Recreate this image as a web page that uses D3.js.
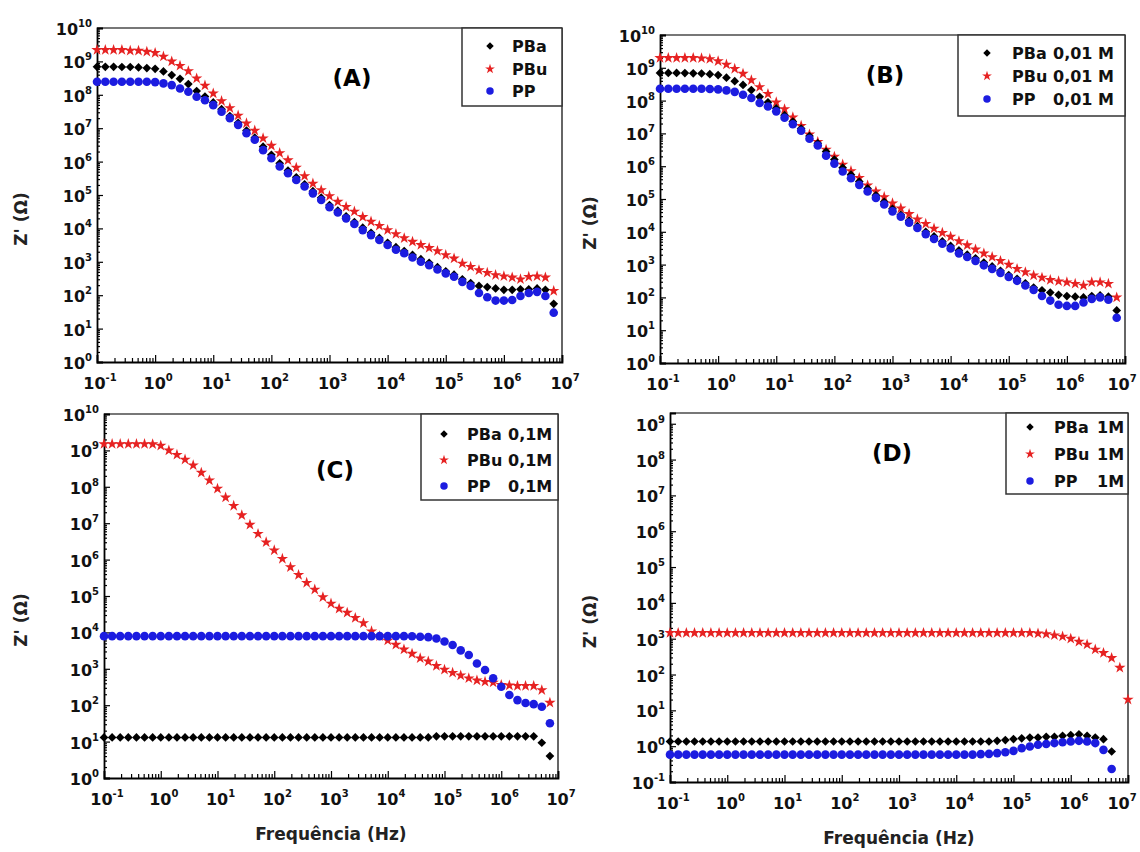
<!DOCTYPE html>
<html>
<head>
<meta charset="utf-8">
<script src="https://cdn.jsdelivr.net/npm/d3@7"></script>
<style>
  body { margin: 0; background: #fff; }
  text { font-family: "DejaVu Sans", "Liberation Sans", Arial, sans-serif; }
</style>
</head>
<body>
<svg id="chart" width="1140" height="852"></svg>
<script>
// frequency points (Hz), 7 per decade
var freq = [0.1,0.139,0.193,0.268,0.373,0.518,0.72,
  1,1.39,1.93,2.68,3.73,5.18,7.2,
  10,13.9,19.3,26.8,37.3,51.8,72,
  100,139,193,268,373,518,720,
  1e3,1.39e3,1.93e3,2.68e3,3.73e3,5.18e3,7.2e3,
  1e4,1.39e4,1.93e4,2.68e4,3.73e4,5.18e4,7.2e4,
  1e5,1.39e5,1.93e5,2.68e5,3.73e5,5.18e5,7.2e5,
  1e6,1.39e6,1.93e6,2.68e6,3.73e6,5.18e6,7.2e6,
  1e7];

// (A) Z' values
var A_PBa = [6.9e8,6.9e8,6.9e8,6.8e8,6.8e8,6.6e8,6.3e8,
  6.0e8,5.0e8,3.9e8,3.0e8,2.1e8,1.3e8,8.9e7,
  5.9e7,3.7e7,2.3e7,1.45e7,8.5e6,5.2e6,2.8e6,
  1.6e6,8.9e5,5.4e5,3.4e5,2.1e5,1.3e5,8.3e4,
  5.0e4,3.4e4,2.3e4,1.55e4,1.05e4,7.4e3,5.2e3,
  3.7e3,2.75e3,2.1e3,1.6e3,1.2e3,930,690,
  520,410,300,230,190,175,160,
  145,145,150,150,160,145,55];
var A_PBu = [2.2e9,2.2e9,2.2e9,2.2e9,2.1e9,2.1e9,1.95e9,
  1.8e9,1.4e9,1.0e9,7.4e8,5.1e8,3.1e8,1.9e8,
  1.1e8,6.5e7,4.0e7,2.4e7,1.4e7,8.5e6,5.0e6,
  3.0e6,1.8e6,1.1e6,6.6e5,3.7e5,2.2e5,1.4e5,
  9.3e4,6.3e4,4.4e4,3.2e4,2.2e4,1.6e4,1.2e4,
  8.9e3,6.8e3,5.1e3,4.0e3,3.2e3,2.6e3,2.1e3,
  1.6e3,1.26e3,890,710,560,470,400,
  370,340,300,355,370,340,135];
var A_PP = [2.45e8,2.45e8,2.45e8,2.45e8,2.45e8,2.45e8,2.45e8,
  2.4e8,2.2e8,1.95e8,1.55e8,1.23e8,8.7e7,6.9e7,
  4.9e7,3.1e7,2.0e7,1.26e7,7.1e6,4.5e6,2.2e6,
  1.26e6,7.1e5,4.5e5,2.8e5,1.8e5,1.12e5,7.1e4,
  4.3e4,3.0e4,2.0e4,1.35e4,8.9e3,6.3e3,4.5e3,
  3.2e3,2.3e3,1.8e3,1.35e3,1.0e3,790,590,
  450,355,250,190,117,87,69,
  69,72,95,117,126,95,30];

// (B) 0,01 M
var B_PBa = [7.0e8,7.0e8,7.0e8,6.9e8,6.8e8,6.7e8,6.4e8,
  6.0e8,5.0e8,3.9e8,3.0e8,2.1e8,1.3e8,8.9e7,
  5.8e7,3.6e7,2.3e7,1.4e7,8.3e6,5.0e6,2.8e6,
  1.6e6,9.0e5,5.5e5,3.4e5,2.1e5,1.3e5,8.2e4,
  5.0e4,3.3e4,2.2e4,1.5e4,1.0e4,7.2e3,5.1e3,
  3.7e3,2.7e3,2.0e3,1.55e3,1.15e3,880,650,
  480,370,270,200,165,140,120,
  110,105,100,110,115,105,40];
var B_PBu = [2.0e9,2.0e9,2.0e9,2.0e9,2.0e9,1.95e9,1.85e9,
  1.6e9,1.26e9,9.3e8,6.6e8,4.2e8,2.6e8,1.6e8,
  8.9e7,5.5e7,3.1e7,1.7e7,9.3e6,5.5e6,3.2e6,
  1.95e6,1.12e6,7.1e5,4.4e5,2.6e5,1.7e5,1.15e5,
  7.4e4,5.2e4,3.5e4,2.4e4,1.75e4,1.26e4,9.3e3,
  7.1e3,5.2e3,3.9e3,2.9e3,2.2e3,1.7e3,1.3e3,
  1.0e3,740,590,470,400,340,310,
  290,260,230,290,290,260,100];
var B_PP = [2.3e8,2.3e8,2.3e8,2.3e8,2.3e8,2.3e8,2.25e8,
  2.2e8,2.05e8,1.85e8,1.5e8,1.2e8,8.5e7,6.6e7,
  4.7e7,3.0e7,1.9e7,1.2e7,6.9e6,4.3e6,2.1e6,
  1.2e6,6.9e5,4.3e5,2.7e5,1.7e5,1.08e5,6.8e4,
  4.2e4,2.9e4,1.9e4,1.3e4,8.5e3,6.0e3,4.3e3,
  3.1e3,2.2e3,1.7e3,1.3e3,950,740,560,
  420,320,230,170,110,80,60,
  55,55,70,90,100,85,24];

// (C) 0,1M
var C_PBa = [13,13,13,13,13,13,13,
  13,13,13,13,13,13,13,
  13,13,13,13,13,13,13,
  13,13,13,13,13,13,13,
  13,13,13,13,13,13,13,
  13,13,13,13,13,13,14,
  14,14,14,14,14,14,14,
  14,14,14,14,14,9.3,4.0];
var C_PBu = [1.5e9,1.5e9,1.5e9,1.5e9,1.5e9,1.5e9,1.48e9,
  1.35e9,1.0e9,7.6e8,5.6e8,3.9e8,2.45e8,1.5e8,
  8.9e7,5.1e7,3.0e7,1.66e7,9.1e6,5.1e6,3.0e6,
  1.8e6,1.05e6,6.2e5,3.8e5,2.3e5,1.5e5,9.3e4,
  6.2e4,4.5e4,3.5e4,2.5e4,1.8e4,1.07e4,7.9e3,
  6.0e3,4.6e3,3.4e3,2.6e3,1.95e3,1.6e3,1.2e3,
  950,780,660,550,480,440,420,
  360,350,340,340,340,260,117];
var C_PP = [7.9e3,7.9e3,7.9e3,7.9e3,7.9e3,7.9e3,7.9e3,
  7.9e3,7.9e3,7.9e3,7.9e3,7.9e3,7.9e3,7.9e3,
  7.9e3,7.9e3,7.9e3,7.9e3,7.9e3,7.9e3,7.9e3,
  7.9e3,7.9e3,7.9e3,7.9e3,7.9e3,7.9e3,7.9e3,
  7.9e3,7.9e3,7.9e3,7.9e3,7.9e3,7.9e3,7.9e3,
  7.9e3,7.9e3,7.9e3,7.8e3,7.6e3,7.4e3,6.8e3,
  5.6e3,4.5e3,3.2e3,2.4e3,1.4e3,930,550,
  320,190,138,115,107,91,32];

// (D) 1M
var D_PBa = [1.35,1.35,1.35,1.35,1.35,1.35,1.35,
  1.35,1.35,1.35,1.35,1.35,1.35,1.35,
  1.35,1.35,1.35,1.35,1.35,1.35,1.35,
  1.35,1.35,1.35,1.35,1.35,1.35,1.35,
  1.35,1.35,1.35,1.35,1.35,1.35,1.35,
  1.35,1.35,1.35,1.35,1.35,1.41,1.48,
  1.58,1.66,1.74,1.74,1.82,1.82,1.95,
  2.04,2.14,1.95,1.74,1.57,0.71];
var D_PBu = [1.45e3,1.45e3,1.45e3,1.45e3,1.45e3,1.45e3,1.45e3,
  1.45e3,1.45e3,1.45e3,1.45e3,1.45e3,1.45e3,1.45e3,
  1.45e3,1.45e3,1.45e3,1.45e3,1.45e3,1.45e3,1.45e3,
  1.45e3,1.45e3,1.45e3,1.45e3,1.45e3,1.45e3,1.45e3,
  1.45e3,1.45e3,1.45e3,1.45e3,1.45e3,1.45e3,1.45e3,
  1.45e3,1.45e3,1.45e3,1.45e3,1.45e3,1.45e3,1.45e3,
  1.45e3,1.45e3,1.45e3,1.4e3,1.35e3,1.25e3,1.15e3,
  1.0e3,830,690,500,400,290,155,20];
var D_PP = [0.58,0.58,0.58,0.58,0.58,0.58,0.58,
  0.58,0.58,0.58,0.58,0.58,0.58,0.58,
  0.58,0.58,0.58,0.58,0.58,0.58,0.58,
  0.58,0.58,0.58,0.58,0.58,0.58,0.58,
  0.58,0.58,0.58,0.58,0.58,0.58,0.58,
  0.58,0.58,0.58,0.60,0.61,0.64,0.68,
  0.74,0.88,0.98,1.10,1.15,1.22,1.29,
  1.35,1.41,1.35,1.22,0.79,0.23];

var seriesNames = ["PBa", "PBu", "PP"];
var concA = ["", "", ""];
var concB = ["0,01 M", "0,01 M", "0,01 M"];
var concC = ["0,1M", "0,1M", "0,1M"];
var concD = ["1M", "1M", "1M"];
var xTickExp = [-1, 0, 1, 2, 3, 4, 5, 6, 7];

var colors = { PBa: "#000000", PBu: "#e62222", PP: "#1c1ce0" };

var svg = d3.select("#chart");

var panels = [
  { label: "(A)", lx: 352, ly: 86, x0: 97, x1: 562, y0: 28, y1: 362, ymin: 1, ymax: 1e10,
    data: [A_PBa, A_PBu, A_PP], conc: concA,
    leg: { x: 462, y: 28, w: 100, h: 78, sx: 28, tx: 50, cx: 0, rows: [18, 41, 63] }, ytitleX: 27, xtitle: false },
  { label: "(B)", lx: 885, ly: 83, x0: 660, x1: 1125, y0: 35, y1: 363, ymin: 1, ymax: 1e10,
    data: [B_PBa, B_PBu, B_PP], conc: concB,
    leg: { x: 958, y: 35, w: 167, h: 81, sx: 29, tx: 54, cx: 41, rows: [18, 41, 64] }, ytitleX: 596, xtitle: false },
  { label: "(C)", lx: 335, ly: 478, x0: 104, x1: 558, y0: 414, y1: 778, ymin: 1, ymax: 1e10,
    data: [C_PBa, C_PBu, C_PP], conc: concC,
    leg: { x: 421, y: 414, w: 137, h: 86, sx: 23, tx: 46, cx: 41, rows: [20, 46, 72] }, ytitleX: 27, xtitle: true },
  { label: "(D)", lx: 892, ly: 461, x0: 670, x1: 1128, y0: 413, y1: 782, ymin: 0.1, ymax: Math.pow(10, 9.3),
    data: [D_PBa, D_PBu, D_PP], conc: concD,
    leg: { x: 1006, y: 413, w: 122, h: 81, sx: 24, tx: 48, cx: 43, rows: [14, 41, 68] }, ytitleX: 596, xtitle: true }
];

function marker(name, scale) {
  scale = scale || 1;
  if (name === "PBa") return d3.symbol().type(d3.symbolSquare).size(38 * scale)();
  if (name === "PBu") return d3.symbol().type(d3.symbolStar).size(40 * scale)();
  return d3.symbol().type(d3.symbolCircle).size(58 * scale)();
}

function supLabel(sel, exp) {
  sel.text("10");
  sel.append("tspan")
    .attr("dy", -8)
    .attr("font-size", 10)
    .text(exp);
}

panels.forEach(function(p) {
  var x = d3.scaleLog().domain([0.1, 1e7]).range([p.x0, p.x1]);
  var y = d3.scaleLog().domain([p.ymin, p.ymax]).range([p.y1, p.y0]);
  var g = svg.append("g");

  var eLo = Math.round(Math.log10(p.ymin));
  var eHi = Math.floor(Math.log10(p.ymax) + 1e-9);
  var yMajor = d3.range(eLo, eHi + 1).map(function(e) { return Math.pow(10, e); });
  var yMinor = [];
  d3.range(eLo, Math.ceil(Math.log10(p.ymax))).forEach(function(e) {
    d3.range(2, 10).forEach(function(m) {
      var v = m * Math.pow(10, e);
      if (v < p.ymax) yMinor.push(v);
    });
  });
  var xMajor = xTickExp.map(function(e) { return Math.pow(10, e); });
  var xMinor = [];
  d3.range(-1, 7).forEach(function(e) {
    d3.range(2, 10).forEach(function(m) { xMinor.push(m * Math.pow(10, e)); });
  });

  // frame: top and right
  g.append("line").attr("x1", p.x0).attr("x2", p.x1).attr("y1", p.y0).attr("y2", p.y0)
    .attr("stroke", "#777").attr("stroke-width", 1.8);
  g.append("line").attr("x1", p.x1).attr("x2", p.x1).attr("y1", p.y0).attr("y2", p.y1)
    .attr("stroke", "#333").attr("stroke-width", 1.5);

  // axes (ticks inside)
  var ax = g.append("g").attr("transform", "translate(0," + p.y1 + ")");
  ax.call(d3.axisBottom(x).tickValues(xMajor).tickSize(-7).tickFormat(""));
  ax.append("g").call(d3.axisBottom(x).tickValues(xMinor).tickSize(-4).tickFormat(""));
  var ay = g.append("g").attr("transform", "translate(" + p.x0 + ",0)");
  ay.call(d3.axisLeft(y).tickValues(yMajor).tickSize(-6).tickFormat(""));
  ay.append("g").call(d3.axisLeft(y).tickValues(yMinor).tickSize(-3).tickFormat(""));
  g.selectAll(".domain").attr("stroke", "#000").attr("stroke-width", 1.8);
  g.selectAll(".tick line").attr("stroke", "#000").attr("stroke-width", 1.2);
  ay.selectAll("g .domain").filter(function() { return this.parentNode !== ay.node(); }).remove();
  ax.selectAll("g .domain").filter(function() { return this.parentNode !== ax.node(); }).remove();

  // tick labels
  g.selectAll(".xlab").data(xTickExp).enter().append("text")
    .attr("class", "xlab")
    .attr("x", function(e) { return Math.min(x(Math.pow(10, e)) + 3, 1122); })
    .attr("y", p.y1 + 27)
    .attr("text-anchor", "middle")
    .attr("font-size", 16).attr("font-weight", "bold").attr("fill", "#111")
    .each(function(e) { supLabel(d3.select(this), e); });
  g.selectAll(".ylab").data(d3.range(eLo, eHi + 1)).enter().append("text")
    .attr("class", "ylab")
    .attr("x", p.x0 - 5)
    .attr("y", function(e) { return y(Math.pow(10, e)) + 7; })
    .attr("text-anchor", "end")
    .attr("font-size", 16).attr("font-weight", "bold").attr("fill", "#111")
    .each(function(e) { supLabel(d3.select(this), e); });

  // axis titles
  g.append("text")
    .attr("transform", "translate(" + p.ytitleX + "," + ((p.y0 + p.y1) / 2 + 24) + ") rotate(-90)")
    .attr("text-anchor", "middle")
    .attr("font-size", 17).attr("font-weight", "bold").attr("fill", "#222")
    .text("Z' (\u03A9)");
  if (p.xtitle) {
    g.append("text")
      .attr("x", (p.x0 + p.x1) / 2).attr("y", p.y1 + 62)
      .attr("text-anchor", "middle")
      .attr("font-size", 17).attr("font-weight", "bold").attr("fill", "#222")
      .text("Frequ\u00eancia (Hz)");
  }

  // data: red first, then black, then blue on top
  [1, 0, 2].forEach(function(k) {
    var name = seriesNames[k];
    var vals = p.data[k];
    g.append("g").selectAll("path").data(vals).enter().append("path")
      .attr("d", marker(name))
      .attr("fill", colors[name])
      .attr("transform", function(v, i) {
        return "translate(" + x(freq[i]) + "," + y(v) + ")" + (name === "PBa" ? " rotate(45)" : "");
      });
  });

  // legend
  var L = p.leg;
  var lg = g.append("g").attr("transform", "translate(" + L.x + "," + L.y + ")");
  lg.append("rect").attr("width", L.w).attr("height", L.h)
    .attr("fill", "#fff").attr("stroke", "#333").attr("stroke-width", 1.5);
  seriesNames.forEach(function(name, k) {
    lg.append("path")
      .attr("d", marker(name, 0.75))
      .attr("fill", colors[name])
      .attr("transform", "translate(" + L.sx + "," + L.rows[k] + ")" + (name === "PBa" ? " rotate(45)" : ""));
    lg.append("text").attr("x", L.tx).attr("y", L.rows[k] + 6)
      .attr("font-size", 16).attr("font-weight", "bold").attr("fill", "#111")
      .text(name);
    if (p.conc[k]) {
      lg.append("text").attr("x", L.tx + L.cx).attr("y", L.rows[k] + 6)
        .attr("font-size", 16).attr("font-weight", "bold").attr("fill", "#111")
        .text(p.conc[k]);
    }
  });

  // panel label
  g.append("text").attr("x", p.lx).attr("y", p.ly)
    .attr("text-anchor", "middle")
    .attr("font-family", "Lato, 'Open Sans', sans-serif")
    .attr("font-size", 23).attr("font-weight", "bold").attr("fill", "#000")
    .text(p.label);
});
</script>
</body>
</html>
